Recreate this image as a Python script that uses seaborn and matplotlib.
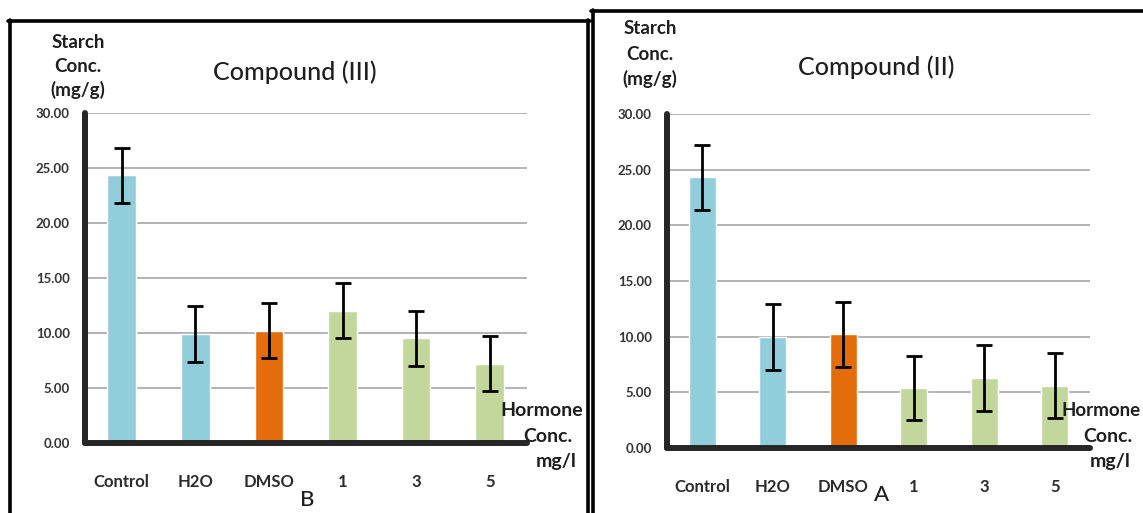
import matplotlib
matplotlib.use("Agg")
import matplotlib.pyplot as plt
import seaborn as sns
import pandas as pd
import numpy as np
from matplotlib.lines import Line2D

# ---- data ----
categories = ["Control", "H2O", "DMSO", "1", "3", "5"]
bar_colors = ["#92CDDC", "#92CDDC", "#E46C0A", "#C3D69B", "#C3D69B", "#C3D69B"]

values_III = [24.3, 9.9, 10.2, 12.0, 9.5, 7.2]
errors_III = [2.5, 2.5, 2.5, 2.5, 2.5, 2.5]

values_II = [24.3, 10.0, 10.2, 5.4, 6.3, 5.6]
errors_II = [2.95, 2.95, 2.95, 2.9, 2.95, 2.9]

y_ticks = [0, 5, 10, 15, 20, 25, 30]
y_tick_labels = ["0.00", "5.00", "10.00", "15.00", "20.00", "25.00", "30.00"]

W, H = 1143, 513
sns.set_theme(style="white")
plt.rcParams["font.family"] = ["Lato", "DejaVu Sans"]

fig = plt.figure(figsize=(W / 100, H / 100), dpi=100)
fig.patch.set_facecolor("white")


def px_axes(x0, x1, ytop, ybot):
    return fig.add_axes([x0 / W, (H - ybot) / H, (x1 - x0) / W, (ybot - ytop) / H])


def draw_panel(ax, values, errors):
    df = pd.DataFrame({"cat": categories, "val": values})
    sns.barplot(data=df, x="cat", y="val", hue="cat", palette=bar_colors,
                order=categories, hue_order=categories, width=0.39,
                legend=False, ax=ax, saturation=1, errorbar=None)
    ax.errorbar(np.arange(len(categories)), values, yerr=errors, fmt="none",
                ecolor="black", elinewidth=2.0, capsize=5.5, capthick=2.0, zorder=5)
    ax.set_xlim(-0.5, len(categories) - 0.5)
    ax.set_ylim(0, 30)
    ax.set_yticks(y_ticks)
    ax.set_yticklabels(y_tick_labels)
    ax.yaxis.grid(True, color="#A6A6A6", linewidth=1.2)
    ax.set_axisbelow(True)
    ax.set_xlabel("")
    ax.set_ylabel("")
    for s in ["top", "right"]:
        ax.spines[s].set_visible(False)
    for s in ["left", "bottom"]:
        ax.spines[s].set_color("#262626")
        ax.spines[s].set_linewidth(4.3)
        ax.spines[s].set_capstyle("round")
    ax.tick_params(axis="y", length=4, width=4.5, color="#262626", pad=7,
                   labelsize=9.5, labelcolor="#333333")
    for t in ax.get_yticklabels():
        t.set_fontweight("bold")
    ax.set_xticks(np.arange(len(categories)))
    ax.set_xticklabels(categories)
    ax.tick_params(axis="x", which="major", length=0, pad=22, labelsize=12,
                   labelcolor="#2b2b2b")
    for t in ax.get_xticklabels():
        t.set_fontweight("bold")
    ax.set_xticks(np.arange(len(categories)) + 0.5, minor=True)
    ax.tick_params(axis="x", which="minor", length=5, width=4.5, color="#262626")
    ax.set_facecolor("white")


# Panel B (Compound III) - left
axB = px_axes(85, 526.5, 112.7, 443)
draw_panel(axB, values_III, errors_III)

# Panel A (Compound II) - right
axA = px_axes(667, 1090, 114, 448)
draw_panel(axA, values_II, errors_II)

txt = dict(fontweight="bold", color="#1e1e1e")


def ftext(x, y, s, size, ha="center", **kw):
    fig.text(x / W, 1 - y / H, s, fontsize=size, ha=ha, va="center", **kw)


# Left panel texts
ftext(78, 42, "Starch", 13.5, **txt)
ftext(78, 66, "Conc.", 13.5, **txt)
ftext(78, 90, "(mg/g)", 13.5, **txt)
ftext(295, 72, "Compound (III)", 18, fontweight="medium", color="#1e1e1e")
ftext(542, 410, "Hormone", 14, **txt)
ftext(548, 436, "Conc.", 14, **txt)
ftext(556, 461, "mg/l", 14, **txt)
ftext(307, 500, "B", 16, fontweight="medium", color="#1e1e1e")

# Right panel texts
ftext(650, 28, "Starch", 13.5, **txt)
ftext(650, 54, "Conc.", 13.5, **txt)
ftext(650, 79, "(mg/g)", 13.5, **txt)
ftext(876, 67, "Compound (II)", 18, fontweight="medium", color="#1e1e1e")
ftext(1141, 411, "Hormone", 13.5, ha="right", **txt)
ftext(1108, 436, "Conc.", 14, **txt)
ftext(1110, 462, "mg/l", 14, **txt)
ftext(882, 495, "A", 16, fontweight="medium", color="#1e1e1e")


# Panel borders (pixel coordinates -> figure fraction)
def hline(x0, x1, y, lw):
    fig.add_artist(Line2D([x0 / W, x1 / W], [1 - y / H, 1 - y / H],
                          transform=fig.transFigure, color="black", linewidth=lw))


def vline(x, y0, y1, lw):
    fig.add_artist(Line2D([x / W, x / W], [1 - y0 / H, 1 - y1 / H],
                          transform=fig.transFigure, color="black", linewidth=lw))


hline(8, 590, 21, 2.6)
vline(10, 20, 513, 2.6)
vline(588, 20, 513, 2.6)
hline(591, 1143, 11, 2.6)
vline(593, 10, 513, 2.6)

fig.savefig("out.png", dpi=100, facecolor="white")
